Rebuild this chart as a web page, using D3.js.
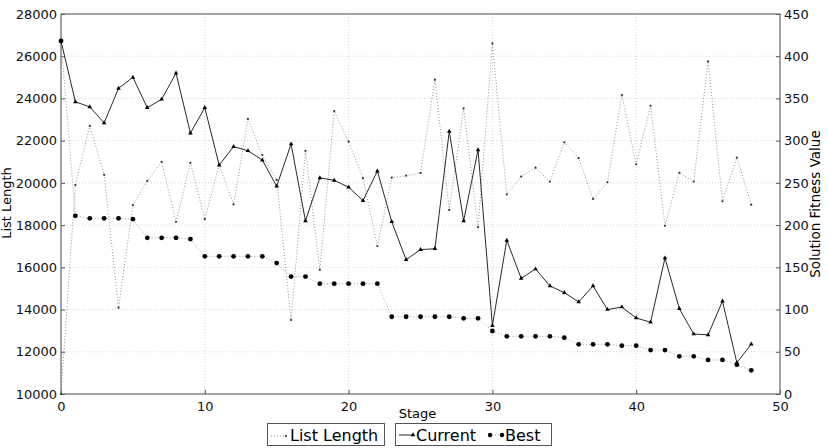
<!DOCTYPE html>
<html>
<head>
<meta charset="utf-8">
<script src="https://cdn.jsdelivr.net/npm/d3@7"></script>
<style>
  body { margin: 0; background: #fff; }
  svg { font-family: "DejaVu Sans", sans-serif; }
</style>
</head>
<body>
<svg id="chart"></svg>
<script>
const listLength = [10000, 19900, 22700, 20380, 14090, 18950, 20090, 21000, 18160, 20950,
  18280, 20850, 18980, 23030, 21320, 20140, 13500, 21520, 15880, 23400,
  21950, 20230, 17010, 20250, 20340, 20470, 24890, 18720, 23530, 17900,
  26610, 19460, 20300, 20720, 20060, 21920, 21170, 19240, 20030, 24160,
  20880, 23650, 17970, 20480, 20060, 25760, 19130, 21200, 18970];
const current = [418, 346, 340, 321, 362, 375, 339, 349, 380, 309,
  339, 271, 293, 288, 277, 246, 296, 205, 256, 253,
  245, 229, 264, 204, 159, 171, 172, 311, 205, 289,
  81, 182, 137, 148, 128, 120, 109, 128, 100, 103,
  90, 85, 161, 101, 71, 70, 110, 37, 59];
const best = [418, 211, 208, 208, 208, 207, 185, 185, 185, 183.5,
  163, 163, 163, 163, 163, 155, 139, 139, 130.6, 130.6,
  130.6, 130.6, 130.6, 91.5, 91.5, 91.5, 91.5, 91.5, 89.6, 89.6,
  74.6, 68.3, 68.3, 68.3, 68.3, 66.7, 58.8, 58.8, 58.8, 57.2,
  57.2, 52, 52, 44.6, 44.6, 40.3, 40.3, 34.7, 28];
const xTicks = [0, 10, 20, 30, 40, 50];
const leftTicks = [10000, 12000, 14000, 16000, 18000, 20000, 22000, 24000, 26000, 28000];
const rightTicks = [0, 50, 100, 150, 200, 250, 300, 350, 400, 450];

const width = 828;
const height = 448;
const margin = {top: 14, right: 48, bottom: 54, left: 61};

const svg = d3.select("#chart")
  .attr("width", width)
  .attr("height", height)
  .attr("viewBox", [0, 0, width, height]);

const x = d3.scaleLinear().domain([0, 50]).range([margin.left, width - margin.right]);
const yL = d3.scaleLinear().domain([10000, 28000]).range([height - margin.bottom, margin.top]);
const yR = d3.scaleLinear().domain([0, 450]).range([height - margin.bottom, margin.top]);

// grid
const grid = svg.append("g").attr("stroke", "#c8c8c8").attr("stroke-width", 0.8)
  .attr("stroke-dasharray", "1,2");
grid.selectAll(".gx").data(xTicks.slice(1, -1)).join("line")
  .attr("x1", d => x(d)).attr("x2", d => x(d))
  .attr("y1", yL.range()[1]).attr("y2", yL.range()[0]);
grid.selectAll(".gy").data(leftTicks.slice(1, -1)).join("line")
  .attr("x1", x.range()[0]).attr("x2", x.range()[1])
  .attr("y1", d => yL(d)).attr("y2", d => yL(d));

// axes
const styleAxis = g => {
  g.select(".domain").remove();
  g.selectAll(".tick line").attr("stroke", "#555");
  g.selectAll(".tick text").attr("fill", "#111").style("font-size", "13px")
    .style("font-family", "DejaVu Sans, sans-serif");
};
svg.append("g")
  .attr("transform", `translate(0,${height - margin.bottom})`)
  .call(d3.axisBottom(x).tickValues(xTicks).tickSize(-4).tickPadding(8).tickFormat(d3.format("d")))
  .call(styleAxis);
svg.append("g")
  .attr("transform", `translate(${margin.left},0)`)
  .call(d3.axisLeft(yL).tickValues(leftTicks).tickSize(-4).tickPadding(4).tickFormat(d3.format("d")))
  .call(styleAxis);
svg.append("g")
  .attr("transform", `translate(${width - margin.right},0)`)
  .call(d3.axisRight(yR).tickValues(rightTicks).tickSize(-4).tickPadding(4).tickFormat(d3.format("d")))
  .call(styleAxis);

// frame
svg.append("rect")
  .attr("x", x.range()[0]).attr("y", yL.range()[1])
  .attr("width", x.range()[1] - x.range()[0])
  .attr("height", yL.range()[0] - yL.range()[1])
  .attr("fill", "none").attr("stroke", "#666").attr("stroke-width", 1.2);

// axis labels
svg.append("text").attr("x", x(25) - 3).attr("y", 418).attr("text-anchor", "middle")
  .style("font-size", "13px").text("Stage");
svg.append("text").attr("transform", "translate(11,203) rotate(-90)")
  .attr("text-anchor", "middle").style("font-size", "13px").text("List Length");
svg.append("text").attr("transform", "translate(820,204) rotate(-90)")
  .attr("text-anchor", "middle").style("font-size", "13.5px").text("Solution Fitness Value");

const idx = d3.range(listLength.length);

// list length
svg.append("path")
  .datum(idx)
  .attr("fill", "none").attr("stroke", "#888").attr("stroke-width", 0.9)
  .attr("stroke-dasharray", "1,2")
  .attr("d", d3.line().x(i => x(i)).y(i => yL(listLength[i])));
svg.append("g").selectAll("circle").data(idx).join("circle")
  .attr("cx", i => x(i)).attr("cy", i => yL(listLength[i])).attr("r", 1.1).attr("fill", "#333");

// best
svg.append("path")
  .datum(idx)
  .attr("fill", "none").attr("stroke", "#999").attr("stroke-width", 0.9)
  .attr("stroke-dasharray", "1,2")
  .attr("d", d3.line().x(i => x(i)).y(i => yR(best[i])));
svg.append("g").selectAll("circle").data(idx).join("circle")
  .attr("cx", i => x(i)).attr("cy", i => yR(best[i])).attr("r", 2.4).attr("fill", "#000");

// current
const tri = d3.symbol().type(d3.symbolTriangle).size(9);
svg.append("path")
  .datum(idx)
  .attr("fill", "none").attr("stroke", "#111").attr("stroke-width", 0.9)
  .attr("d", d3.line().x(i => x(i)).y(i => yR(current[i])));
svg.append("g").selectAll("path").data(idx).join("path")
  .attr("transform", i => `translate(${x(i)},${yR(current[i])})`)
  .attr("d", tri).attr("fill", "#000");

// legend
const leg = svg.append("g").style("font-size", "16px");
leg.append("rect").attr("x", 267.5).attr("y", 423.5).attr("width", 117).attr("height", 22)
  .attr("fill", "#fff").attr("stroke", "#555");
leg.append("line").attr("x1", 271).attr("x2", 285).attr("y1", 436).attr("y2", 436)
  .attr("stroke", "#888").attr("stroke-dasharray", "1,2");
leg.append("circle").attr("cx", 286).attr("cy", 436).attr("r", 1.1).attr("fill", "#333");
leg.append("text").attr("x", 290).attr("y", 441).text("List Length");

leg.append("rect").attr("x", 395.5).attr("y", 423.5).attr("width", 156).attr("height", 22)
  .attr("fill", "#fff").attr("stroke", "#555");
leg.append("line").attr("x1", 399).attr("x2", 413).attr("y1", 435).attr("y2", 435)
  .attr("stroke", "#111").attr("stroke-width", 0.9);
leg.append("path").attr("transform", "translate(413,435)").attr("d", tri).attr("fill", "#000");
leg.append("text").attr("x", 416).attr("y", 441).text("Current");
leg.append("line").attr("x1", 489).attr("x2", 503).attr("y1", 435).attr("y2", 435)
  .attr("stroke", "#999").attr("stroke-dasharray", "1,2");
leg.append("circle").attr("cx", 490).attr("cy", 435).attr("r", 2.2).attr("fill", "#000");
leg.append("circle").attr("cx", 502).attr("cy", 435).attr("r", 2.2).attr("fill", "#000");
leg.append("text").attr("x", 505).attr("y", 441).text("Best");
</script>
</body>
</html>
